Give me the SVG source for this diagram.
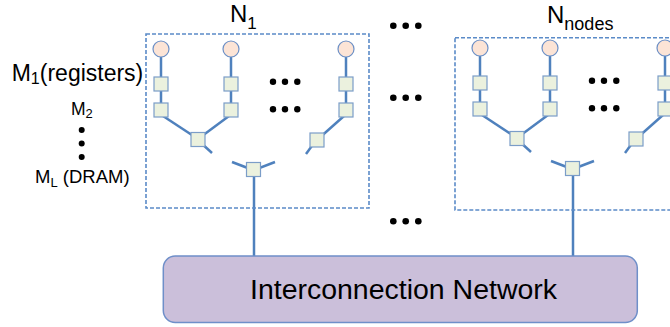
<svg xmlns="http://www.w3.org/2000/svg" width="670" height="327" viewBox="0 0 670 327">
<style>
.box{fill:none;stroke:#5b8bc8;stroke-width:1.6;stroke-dasharray:4 2}
.ln{stroke:#4f81bd;stroke-width:2.5;fill:none;stroke-linecap:butt}
.pe{fill:#fce4d6;stroke:#6b8fc6;stroke-width:1.2}
.sq{fill:#ebf1de;stroke:#7b9dc8;stroke-width:1.2}
.dot{fill:#000}
.t{font-family:"Liberation Sans",Arial,sans-serif;fill:#000}
</style>
<defs>
<g id="tree">
  <line class="ln" x1="161" y1="57" x2="161" y2="110"/>
  <line class="ln" x1="231" y1="57" x2="231" y2="110"/>
  <line class="ln" x1="346" y1="57" x2="346" y2="110"/>
  <line class="ln" x1="163" y1="116" x2="198" y2="139"/>
  <line class="ln" x1="229" y1="116" x2="198" y2="139"/>
  <line class="ln" x1="200" y1="142" x2="212" y2="153"/>
  <line class="ln" x1="344" y1="116" x2="317" y2="140"/>
  <line class="ln" x1="314" y1="143" x2="306" y2="154"/>
  <line class="ln" x1="232" y1="162" x2="253" y2="170"/>
  <line class="ln" x1="275" y1="162" x2="254" y2="170"/>
  <circle class="pe" cx="161" cy="49" r="8"/>
  <circle class="pe" cx="231" cy="49" r="8"/>
  <circle class="pe" cx="346" cy="49" r="8"/>
  <rect class="sq" x="154" y="77" width="14" height="14"/>
  <rect class="sq" x="154" y="103" width="14" height="14"/>
  <rect class="sq" x="224" y="77" width="14" height="14"/>
  <rect class="sq" x="224" y="103" width="14" height="14"/>
  <rect class="sq" x="339" y="77" width="14" height="14"/>
  <rect class="sq" x="339" y="103" width="14" height="14"/>
  <rect class="sq" x="191" y="132.5" width="14" height="14"/>
  <rect class="sq" x="310" y="133" width="14" height="14"/>
  <rect class="sq" x="246.5" y="162.5" width="14" height="14"/>
  <circle class="dot" cx="273" cy="81.7" r="3.2"/>
  <circle class="dot" cx="285" cy="81.7" r="3.2"/>
  <circle class="dot" cx="297.3" cy="81.7" r="3.2"/>
  <circle class="dot" cx="273" cy="109.3" r="3.2"/>
  <circle class="dot" cx="285" cy="109.3" r="3.2"/>
  <circle class="dot" cx="297.3" cy="109.3" r="3.2"/>
</g>
</defs>

<g id="connectors">
  <line class="ln" x1="254" y1="176" x2="254" y2="257"/>
  <line class="ln" x1="573" y1="175" x2="573" y2="257"/>
</g>

<g id="node1">
  <rect class="box" x="146" y="34" width="223" height="174"/>
  <use href="#tree"/>
  <text class="t" x="230" y="22" font-size="24">N<tspan font-size="17" dy="7">1</tspan></text>
</g>

<g id="node2">
  <rect class="box" x="455" y="37.7" width="223" height="172.3"/>
  <use href="#tree" transform="translate(319,-1)"/>
  <text class="t" x="547" y="23" font-size="24">N<tspan font-size="18" dy="6.5">nodes</tspan></text>
</g>

<g id="ellipses">
  <circle class="dot" cx="393.3" cy="25.7" r="3.3"/>
  <circle class="dot" cx="405.7" cy="25.7" r="3.3"/>
  <circle class="dot" cx="418.3" cy="25.7" r="3.3"/>
  <circle class="dot" cx="393.3" cy="97.7" r="3.3"/>
  <circle class="dot" cx="405.7" cy="97.7" r="3.3"/>
  <circle class="dot" cx="418.3" cy="97.7" r="3.3"/>
  <circle class="dot" cx="393.3" cy="221.3" r="3.3"/>
  <circle class="dot" cx="405.7" cy="221.3" r="3.3"/>
  <circle class="dot" cx="418.3" cy="221.3" r="3.3"/>
</g>

<g id="memory-labels">
  <text class="t" x="11.7" y="81" font-size="23">M<tspan font-size="16" dy="2.5">1</tspan><tspan dy="-2.5">(registers)</tspan></text>
  <text class="t" x="71" y="115" font-size="17.5">M<tspan font-size="13" dy="3">2</tspan></text>
  <circle class="dot" cx="81.7" cy="130" r="3"/>
  <circle class="dot" cx="81.7" cy="143.5" r="3"/>
  <circle class="dot" cx="81.7" cy="157" r="3"/>
  <text class="t" x="35" y="183" font-size="18.5">M<tspan font-size="13" dy="4">L</tspan><tspan dy="-4"> (DRAM)</tspan></text>
</g>

<g id="network">
  <rect x="163.3" y="256" width="474" height="66.5" rx="12" fill="#cbbfda" stroke="#6f8fc9" stroke-width="1.5"/>
  <text class="t" x="250" y="299" font-size="27" textLength="307" lengthAdjust="spacingAndGlyphs">Interconnection Network</text>
</g>
</svg>
